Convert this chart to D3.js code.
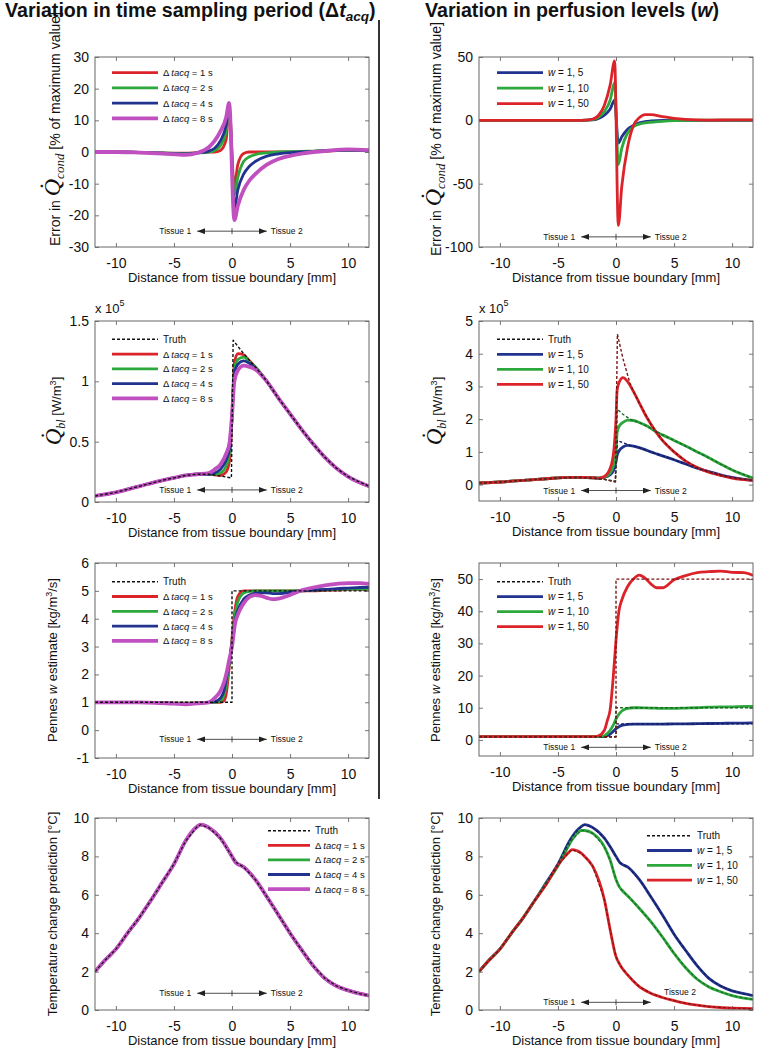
<!DOCTYPE html>
<html>
<head>
<meta charset="utf-8">
<script src="https://cdn.jsdelivr.net/npm/d3@7"></script>
<style>
  body { margin: 0; background: #fff; }
  text { font-family: "Liberation Sans", Arial, sans-serif; fill: #111; }
</style>
</head>
<body>
<svg id="fig" width="763" height="1050"></svg>
<script>
// ---- data ----
const X_DOMAIN = [-11.8, 11.8];
const X_TICKS = [-10, -5, 0, 5, 10];
const DT_VALUES = [1, 2, 4, 8];      // sampling periods [s]
const W_VALUES = [5, 10, 50];        // tissue 2 perfusion

// row 1: error in Q_cond [%]
const errDtX = [-11.8, -10, -8, -6, -4, -3, -2, -1.5, -1, -0.5, -0.25, 0.2, 0.5, 1, 1.5, 2, 3, 4, 5, 6, 7, 8, 10, 11.8];
const errDt1 = [0, 0, -0.1, -0.3, -0.4, -0.2, 0, 0, 0.5, 4, 14.5, -11, -4, -0.5, 0, 0, 0, 0, 0, 0.1, 0.2, 0.3, 0.5, 0.4];
const errDt2 = [0, 0, -0.1, -0.3, -0.5, -0.3, 0, 0.5, 2, 6.5, 13.5, -13.5, -8, -3, -1.5, -0.8, -0.3, 0, 0.1, 0.2, 0.3, 0.4, 0.5, 0.4];
const errDt4 = [0, 0, -0.1, -0.4, -0.6, -0.3, 0.3, 1.2, 3.5, 8.5, 14, -18, -12, -7, -4.5, -3, -1.3, -0.6, -0.2, 0, 0.2, 0.4, 0.6, 0.5];
const errDt8 = [0, 0, -0.2, -0.5, -0.9, -0.3, 1.5, 3.5, 6.5, 11, 15.5, -21.5, -17, -12, -9, -7, -4, -2.2, -1.2, -0.5, 0, 0.3, 0.8, 0.6];

const errWX = [-11.8, -10, -8, -6, -4, -3, -2, -1.5, -1, -0.5, -0.12, 0.2, 0.5, 1, 1.5, 2, 2.5, 3, 4, 5, 6, 8, 10, 11.8];
const errW5 = [0, 0, 0, 0, 0, 0, 0.3, 1.5, 4, 9, 16, -18, -13, -7, -4, -2, -1, -0.5, 0, 0, 0, 0, 0, 0];
const errW10 = [0, 0, 0, 0, 0, 0, 0.5, 2.5, 7, 16, 30, -35, -22, -10, -5, -3, -2, -1.5, -0.8, -0.3, 0, 0.2, 0.2, 0.2];
const errW50 = [0, 0, 0, 0, 0, 0, 1, 4, 12, 28, 47, -83, -52, -21, -4, 2, 4.5, 4.5, 3, 1.5, 0.7, 0.2, 0.3, 0.3];

// row 2: Q_bl [x1e5 W/m3]
const qDtX = [-11.8, -10, -8, -6, -5, -4, -3, -2, -1.5, -1, -0.5, -0.2, 0, 0.2, 0.5, 1, 1.5, 2, 3, 4, 5, 6, 7, 8, 9, 10, 11.8];
const qDt1 = [0.05, 0.08, 0.13, 0.18, 0.2, 0.22, 0.23, 0.23, 0.225, 0.22, 0.25, 0.35, 0.7, 1.15, 1.23, 1.22, 1.17, 1.12, 1.0, 0.86, 0.73, 0.6, 0.48, 0.37, 0.28, 0.21, 0.13];
const qDt2 = [0.05, 0.08, 0.13, 0.18, 0.2, 0.22, 0.23, 0.23, 0.23, 0.24, 0.3, 0.42, 0.7, 1.1, 1.18, 1.2, 1.16, 1.12, 1.0, 0.86, 0.73, 0.6, 0.48, 0.37, 0.28, 0.21, 0.13];
const qDt4 = [0.05, 0.08, 0.13, 0.18, 0.2, 0.22, 0.23, 0.23, 0.24, 0.27, 0.35, 0.45, 0.7, 1.06, 1.14, 1.17, 1.15, 1.11, 1.0, 0.86, 0.73, 0.6, 0.48, 0.37, 0.28, 0.21, 0.13];
const qDt8 = [0.05, 0.08, 0.13, 0.18, 0.2, 0.22, 0.23, 0.24, 0.27, 0.31, 0.4, 0.5, 0.72, 1.0, 1.09, 1.13, 1.12, 1.1, 1.0, 0.86, 0.73, 0.6, 0.48, 0.37, 0.28, 0.21, 0.13];
const qTruthDtX = [-11.8, -10, -8, -6, -5, -4, -3, -2, -1, -0.05, 0.1, 1, 2, 3, 4, 5, 6, 7, 8, 9, 10, 11.8];
const qTruthDt = [0.05, 0.08, 0.13, 0.18, 0.2, 0.22, 0.23, 0.23, 0.215, 0.2, 1.34, 1.23, 1.12, 1.0, 0.86, 0.73, 0.6, 0.48, 0.37, 0.28, 0.21, 0.13];

const qWX = [-11.8, -10, -8, -6, -4, -3, -2, -1.5, -1, -0.5, -0.2, 0, 0.1, 0.3, 0.6, 1, 1.5, 2, 2.5, 3, 3.5, 4, 5, 6, 7, 8, 9, 10, 11.8];
const qW5 = [0.05, 0.08, 0.13, 0.18, 0.22, 0.22, 0.21, 0.2, 0.22, 0.3, 0.45, 0.7, 0.9, 1.05, 1.15, 1.2, 1.18, 1.13, 1.07, 1.0, 0.94, 0.88, 0.76, 0.63, 0.5, 0.4, 0.3, 0.22, 0.13];
const qW10 = [0.05, 0.08, 0.13, 0.18, 0.22, 0.22, 0.21, 0.2, 0.23, 0.35, 0.6, 1.0, 1.6, 1.8, 1.9, 1.97, 1.96, 1.9, 1.82, 1.72, 1.6, 1.52, 1.35, 1.18, 1.0, 0.82, 0.63, 0.45, 0.2];
const qW50 = [0.05, 0.08, 0.13, 0.18, 0.22, 0.22, 0.21, 0.2, 0.25, 0.5, 1.0, 2.0, 2.9, 3.15, 3.27, 3.15, 2.85, 2.5, 2.15, 1.85, 1.58, 1.35, 1.0, 0.72, 0.52, 0.38, 0.28, 0.2, 0.13];
const qTruthWX = [-11.8, -10, -8, -6, -4, -3, -2, -1, -0.05, 0.12, 0.6, 1.2, 1.5, 2, 3, 4, 5, 6, 7, 8, 9, 10, 11.8];
const qTruthW5 = [0.05, 0.08, 0.13, 0.18, 0.22, 0.22, 0.2, 0.16, 0.1, 1.35, 1.28, 1.2, 1.18, 1.13, 1.0, 0.88, 0.76, 0.63, 0.5, 0.4, 0.3, 0.22, 0.13];
const qTruthW10 = [0.05, 0.08, 0.13, 0.18, 0.22, 0.22, 0.2, 0.16, 0.1, 2.3, 2.15, 2.0, 1.96, 1.9, 1.72, 1.52, 1.35, 1.18, 1.0, 0.82, 0.63, 0.45, 0.2];
const qTruthW50 = [0.05, 0.08, 0.13, 0.18, 0.22, 0.22, 0.2, 0.16, 0.08, 4.6, 3.85, 3.1, 2.85, 2.5, 1.85, 1.35, 1.0, 0.72, 0.52, 0.38, 0.28, 0.2, 0.13];

// row 3: Pennes w estimate [kg/m3/s]
const wDtX = [-11.8, -10, -8, -6, -5, -4, -3, -2, -1.5, -1, -0.7, -0.5, -0.25, 0, 0.25, 0.5, 1, 1.5, 2, 2.5, 3, 3.5, 4, 5, 6, 7, 8, 9, 10, 11, 11.8];
const wDt1 = [1, 1, 1, 0.98, 0.97, 0.97, 0.98, 1, 1, 1, 1.05, 1.3, 2.2, 3.3, 4.3, 4.8, 5, 5, 5, 5, 5, 5, 5, 5, 5, 5, 5.02, 5.03, 5.05, 5.05, 5.05];
const wDt2 = [1, 1, 1, 0.98, 0.97, 0.97, 0.98, 1, 1, 1.05, 1.25, 1.6, 2.3, 3.2, 4.1, 4.6, 4.92, 4.98, 5, 5, 5, 5, 5, 5, 5.02, 5.03, 5.04, 5.05, 5.06, 5.06, 5.06];
const wDt4 = [1, 1, 1, 0.98, 0.96, 0.95, 0.97, 1, 1.02, 1.15, 1.4, 1.8, 2.4, 3.1, 3.9, 4.3, 4.7, 4.85, 4.92, 4.93, 4.93, 4.9, 4.9, 4.95, 5.0, 5.03, 5.05, 5.08, 5.1, 5.12, 5.13];
const wDt8 = [1, 1, 1, 0.97, 0.95, 0.93, 0.96, 1.0, 1.15, 1.4, 1.7, 2.0, 2.5, 3.0, 3.8, 4.15, 4.55, 4.78, 4.85, 4.82, 4.75, 4.7, 4.72, 4.85, 5.02, 5.12, 5.2, 5.25, 5.28, 5.28, 5.25];
const stepX = [-11.8, 0, 0, 11.8];
const wTruthDt = [1, 1, 5, 5];

const wWX = [-11.8, -10, -8, -6, -4, -2, -1.5, -1, -0.75, -0.5, -0.25, 0, 0.25, 0.5, 1, 1.5, 2, 2.5, 3, 3.5, 4, 5, 6, 7, 8, 9, 10, 11, 11.8];
const wW5 = [1, 1, 1, 1, 1, 1, 1, 1, 1.3, 1.8, 2.6, 3.5, 4.1, 4.5, 4.8, 4.9, 4.9, 4.9, 4.9, 4.9, 4.9, 5, 5, 5.05, 5.1, 5.15, 5.2, 5.25, 5.3];
const wW10 = [1, 1, 1, 1, 1, 1, 1, 1.3, 2, 3, 4.5, 6.5, 8, 9, 9.8, 10, 10, 9.95, 9.9, 9.85, 9.8, 9.8, 9.9, 10, 10.2, 10.3, 10.3, 10.4, 10.4];
const wW50 = [1, 1, 1, 1, 1, 1, 1.3, 3, 6, 9.5, 19, 31, 40, 43.5, 47.7, 50, 51.2, 50.3, 48.5, 47.3, 47.3, 49.8, 51.1, 52, 52.3, 52.5, 52.1, 52, 51.1];
const wTruthW5 = [1, 1, 5, 5];
const wTruthW10 = [1, 1, 10, 10];
const wTruthW50 = [1, 1, 50, 50];

// row 4: temperature change prediction [degC]
const tDtX = [-11.8, -11, -10, -9, -8, -7, -6, -5, -4, -3, -2.7, -2, -1, 0, 0.3, 1, 2, 3, 4, 5, 6, 7, 8, 9, 10, 11, 11.8];
const tDtAll = [2.0, 2.55, 3.17, 4.0, 4.8, 5.7, 6.65, 7.6, 8.8, 9.55, 9.65, 9.5, 8.95, 8.0, 7.7, 7.45, 6.8, 5.9, 4.95, 4.0, 3.13, 2.3, 1.65, 1.25, 1.02, 0.85, 0.75];

const tWX = [-11.8, -11, -10, -9, -8, -7, -6, -5, -4, -3.8, -3, -2.7, -2, -1, -0.5, 0, 0.3, 0.5, 1, 2, 3, 4, 5, 6, 7, 8, 9, 10, 11, 11.8];
const tW5 = [2.0, 2.55, 3.17, 4.0, 4.8, 5.7, 6.65, 7.6, 8.8, 9.0, 9.55, 9.65, 9.5, 8.95, 8.5, 8.0, 7.7, 7.6, 7.45, 6.8, 5.9, 4.95, 3.95, 3.1, 2.3, 1.65, 1.25, 1.0, 0.85, 0.75];
const tW10 = [2.0, 2.55, 3.17, 4.0, 4.8, 5.7, 6.6, 7.5, 8.65, 8.85, 9.35, 9.35, 9.2, 8.5, 7.8, 6.8, 6.4, 6.25, 5.95, 5.3, 4.6, 3.8, 2.95, 2.2, 1.6, 1.2, 0.95, 0.75, 0.62, 0.55];
const tW50 = [2.0, 2.55, 3.17, 4.0, 4.8, 5.7, 6.55, 7.55, 8.25, 8.35, 8.17, 8.0, 7.48, 5.74, 4.17, 2.78, 2.4, 2.2, 1.83, 1.22, 0.87, 0.65, 0.49, 0.35, 0.25, 0.18, 0.13, 0.1, 0.08, 0.07];

// ---- styles ----
const RED = "#dc2329", GREEN = "#2da83c", BLUE = "#22338f", PINK = "#c050c0";
const DRED = "#7a1414", DGREEN = "#1d6a27", DBLUE = "#141d5a", BLACK = "#111";
const DT_COLORS = [RED, GREEN, BLUE, PINK];
const DT_WIDTHS = [2.8, 2.8, 2.8, 3.8];
const W_COLORS = [BLUE, GREEN, RED];
const SERIF = "'Liberation Serif','DejaVu Serif',serif";

const svg = d3.select("#fig");

// arrow head for tissue annotation
svg.append("defs").append("marker")
    .attr("id", "arr")
    .attr("viewBox", "0 0 8 6")
    .attr("refX", 8).attr("refY", 3)
    .attr("markerWidth", 8).attr("markerHeight", 6)
    .attr("markerUnits", "userSpaceOnUse")
    .attr("orient", "auto")
  .append("path").attr("d", "M0,0L8,3L0,6Z").attr("fill", "#222");

// append text pieces as tspans
function rich(sel, parts) {
  parts.forEach(p => {
    const ts = sel.append("tspan").text(p.t);
    if (p.size) ts.attr("font-size", p.size);
    if (p.it) ts.attr("font-style", "italic");
    if (p.serif) ts.attr("font-family", SERIF);
    if (p.dy) ts.attr("dy", p.dy);
  });
  return sel;
}

const dtLabel = n => [{t: "\u0394\u2009", size: 9.5}, {t: "tacq", it: true, size: 9.5}, {t: " = " + n + " s", size: 9.5}];
const wLabel = n => [{t: "w", it: true}, {t: " = 1, " + n}];
const truthLabel = [{t: "Truth"}];

const errYLabel = [{t: "Error in ", size: 14}, {t: "Q\u0307", size: 24, it: true, serif: true},
                   {t: "cond", size: 13, it: true, serif: true, dy: 4}, {t: " [% of maximum value]", size: 14, dy: -4}];
const qYLabel = [{t: "Q\u0307", size: 23, it: true, serif: true}, {t: "bl", size: 12, it: true, serif: true, dy: 4},
                 {t: "  [W/m", dy: -4}, {t: "3", size: 9, dy: -5}, {t: "]", dy: 5}];
const wYLabel = [{t: "Pennes "}, {t: "w", it: true}, {t: " estimate [kg/m"}, {t: "3", size: 9, dy: -5}, {t: "/s]", dy: 5}];
const tYLabel = [{t: "Temperature change prediction [\u00b0C]"}];

function panel(cfg) {
  const g = svg.append("g");
  const x = d3.scaleLinear().domain(X_DOMAIN).range([cfg.left, cfg.left + cfg.w]);
  const y = d3.scaleLinear().domain(cfg.yDomain).range([cfg.top + cfg.h, cfg.top]);

  const clipId = "clip" + cfg.id;
  svg.append("clipPath").attr("id", clipId)
    .append("rect").attr("x", cfg.left).attr("y", cfg.top).attr("width", cfg.w).attr("height", cfg.h);

  // axes, ticks pointing inward
  const fmt = d => String(d);
  const styleAxis = a => {
    a.select(".domain").remove();
    a.selectAll("line").attr("stroke", "#777");
    a.selectAll("text").attr("font-size", 14).attr("fill", "#111")
      .style("font-family", "'Liberation Sans', Arial, sans-serif");
  };
  g.append("g").attr("transform", `translate(0,${cfg.top + cfg.h})`)
    .call(d3.axisBottom(x).tickValues(X_TICKS).tickSize(-4).tickPadding(11).tickFormat(fmt)).call(styleAxis);
  g.append("g").attr("transform", `translate(0,${cfg.top})`)
    .call(d3.axisTop(x).tickValues(X_TICKS).tickSize(-4).tickFormat("")).call(styleAxis);
  g.append("g").attr("transform", `translate(${cfg.left},0)`)
    .call(d3.axisLeft(y).tickValues(cfg.yTicks).tickSize(-4).tickPadding(6).tickFormat(fmt)).call(styleAxis);
  g.append("g").attr("transform", `translate(${cfg.left + cfg.w},0)`)
    .call(d3.axisRight(y).tickValues(cfg.yTicks).tickSize(-4).tickFormat("")).call(styleAxis);

  // curves
  const lines = g.append("g").attr("clip-path", `url(#${clipId})`);
  cfg.series.forEach(s => {
    const line = d3.line().x(d => x(d[0])).y(d => y(d[1]))
      .curve(s.dash ? d3.curveLinear : d3.curveMonotoneX);
    lines.append("path")
      .datum(d3.zip(s.xs, s.ys))
      .attr("d", line)
      .attr("fill", "none")
      .attr("stroke", s.color)
      .attr("stroke-width", s.width)
      .attr("stroke-dasharray", s.dash ? "3,2" : null)
      .attr("stroke-linejoin", "round");
  });

  // frame
  g.append("rect").attr("x", cfg.left).attr("y", cfg.top).attr("width", cfg.w).attr("height", cfg.h)
    .attr("fill", "none").attr("stroke", "#666").attr("stroke-width", 1);

  // tissue annotation
  const ty = y(cfg.tissueY);
  g.append("line").attr("x1", x(0)).attr("x2", x(-3)).attr("y1", ty).attr("y2", ty)
    .attr("stroke", "#222").attr("stroke-width", 0.8).attr("marker-end", "url(#arr)");
  g.append("line").attr("x1", x(0)).attr("x2", x(3)).attr("y1", ty).attr("y2", ty)
    .attr("stroke", "#222").attr("stroke-width", 0.8).attr("marker-end", "url(#arr)");
  g.append("line").attr("x1", x(0)).attr("x2", x(0)).attr("y1", ty - 3).attr("y2", ty + 3)
    .attr("stroke", "#222").attr("stroke-width", 0.8);
  g.append("text").attr("x", x(-3) - 6).attr("y", ty).attr("dy", "0.35em")
    .attr("text-anchor", "end").attr("font-size", 8.5).text("Tissue 1");
  const t2 = cfg.tissue2 || [3, cfg.tissueY];
  g.append("text").attr("x", x(t2[0]) + 4).attr("y", y(t2[1])).attr("dy", "0.35em")
    .attr("font-size", 8.5).text("Tissue 2");

  // legend
  const L = cfg.legend;
  L.rows.forEach((r, i) => {
    const ly = cfg.top + L.y + i * L.dy;
    g.append("line").attr("x1", cfg.left + L.x).attr("x2", cfg.left + L.x + L.len)
      .attr("y1", ly).attr("y2", ly)
      .attr("stroke", r.color).attr("stroke-width", r.dash ? 1.5 : r.width)
      .attr("stroke-dasharray", r.dash ? "3,2" : null);
    rich(g.append("text").attr("x", cfg.left + L.x + L.len + 5).attr("y", ly).attr("dy", "0.35em")
      .attr("font-size", 10), r.parts);
  });

  // axis labels
  g.append("text").attr("x", cfg.left + cfg.w / 2).attr("y", cfg.top + cfg.h + 35)
    .attr("text-anchor", "middle").attr("font-size", 13).text("Distance from tissue boundary [mm]");
  rich(g.append("text").attr("transform", `translate(${cfg.yl[0]},${cfg.yl[1]}) rotate(-90)`)
    .attr("text-anchor", "middle").attr("font-size", 13), cfg.ylabel);

  if (cfg.exp) {
    rich(g.append("text").attr("x", cfg.left).attr("y", cfg.top - 8).attr("font-size", 13),
      [{t: "x 10"}, {t: "5", size: 9, dy: -7}]);
  }
}

const LEFT = 95, RIGHT = 479, PW = 274;

// legend rows built from the series lists
const dtRows = DT_VALUES.map((v, i) => ({color: DT_COLORS[i], width: DT_WIDTHS[i], parts: dtLabel(v)}));
const wRows = W_VALUES.map((v, i) => ({color: W_COLORS[i], width: 2.8, parts: wLabel(v)}));
const truthRow = {color: BLACK, dash: true, parts: truthLabel};

const dtSeries = (xs, arrs) => arrs.map((ys, i) => ({xs, ys, color: DT_COLORS[i], width: DT_WIDTHS[i]}));
const wSeries = (xs, arrs) => arrs.map((ys, i) => ({xs, ys, color: W_COLORS[i], width: 2.8}));

// row 1
panel({id: 1, left: LEFT, top: 57, w: PW, h: 190, yDomain: [-30, 30], yTicks: [-30, -20, -10, 0, 10, 20, 30],
  series: dtSeries(errDtX, [errDt1, errDt2, errDt4, errDt8]),
  tissueY: -25, legend: {x: 17, y: 15.7, dy: 15.2, len: 46, rows: dtRows},
  ylabel: errYLabel, yl: [60, 129]});
panel({id: 2, left: RIGHT, top: 57, w: PW, h: 190, yDomain: [-100, 50], yTicks: [-100, -50, 0, 50],
  series: wSeries(errWX, [errW5, errW10, errW50]),
  tissueY: -92, legend: {x: 18, y: 15.7, dy: 15.5, len: 46, rows: wRows},
  ylabel: errYLabel, yl: [441, 139]});

// row 2
panel({id: 3, left: LEFT, top: 321, w: PW, h: 181, yDomain: [0, 1.5], yTicks: [0, 0.5, 1, 1.5],
  series: dtSeries(qDtX, [qDt1, qDt2, qDt4, qDt8])
    .concat([{xs: qTruthDtX, ys: qTruthDt, color: BLACK, width: 1.4, dash: true}]),
  tissueY: 0.1, legend: {x: 17, y: 18.3, dy: 14.75, len: 46, rows: [truthRow].concat(dtRows)},
  ylabel: qYLabel, yl: [61, 411], exp: true});
panel({id: 4, left: RIGHT, top: 321, w: PW, h: 180, yDomain: [-0.5, 5], yTicks: [0, 1, 2, 3, 4, 5],
  series: wSeries(qWX, [qW5, qW10, qW50]).concat([
    {xs: qTruthWX, ys: qTruthW5, color: DBLUE, width: 1.4, dash: true},
    {xs: qTruthWX, ys: qTruthW10, color: DGREEN, width: 1.4, dash: true},
    {xs: qTruthWX, ys: qTruthW50, color: DRED, width: 1.4, dash: true}]),
  tissueY: -0.18, legend: {x: 18, y: 18.3, dy: 15, len: 46, rows: [truthRow].concat(wRows)},
  ylabel: qYLabel, yl: [442, 411], exp: true});

// row 3
panel({id: 5, left: LEFT, top: 563, w: PW, h: 195, yDomain: [-1, 6], yTicks: [-1, 0, 1, 2, 3, 4, 5, 6],
  series: dtSeries(wDtX, [wDt1, wDt2, wDt4, wDt8])
    .concat([{xs: stepX, ys: wTruthDt, color: BLACK, width: 1.4, dash: true}]),
  tissueY: -0.33, legend: {x: 17, y: 18.7, dy: 14.8, len: 46, rows: [truthRow].concat(dtRows)},
  ylabel: wYLabel, yl: [57, 660]});
panel({id: 6, left: RIGHT, top: 563, w: PW, h: 193, yDomain: [-5, 55], yTicks: [0, 10, 20, 30, 40, 50],
  series: wSeries(wWX, [wW5, wW10, wW50]).concat([
    {xs: stepX, ys: wTruthW5, color: DBLUE, width: 1.4, dash: true},
    {xs: stepX, ys: wTruthW10, color: DGREEN, width: 1.4, dash: true},
    {xs: stepX, ys: wTruthW50, color: DRED, width: 1.4, dash: true}]),
  tissueY: -2.3, legend: {x: 18, y: 18.7, dy: 15, len: 46, rows: [truthRow].concat(wRows)},
  ylabel: wYLabel, yl: [440, 660]});

// row 4
panel({id: 7, left: LEFT, top: 818, w: PW, h: 192, yDomain: [0, 10], yTicks: [0, 2, 4, 6, 8, 10],
  series: dtSeries(tDtX, [tDtAll, tDtAll, tDtAll, tDtAll])
    .concat([{xs: tDtX, ys: tDtAll, color: BLACK, width: 1.2, dash: true}]),
  tissueY: 0.87, legend: {x: 173, y: 12.7, dy: 14.6, len: 42, rows: [truthRow].concat(dtRows)},
  ylabel: tYLabel, yl: [57, 914]});
panel({id: 8, left: RIGHT, top: 818, w: PW, h: 192, yDomain: [0, 10], yTicks: [0, 2, 4, 6, 8, 10],
  series: wSeries(tWX, [tW5, tW10, tW50]).concat([
    {xs: tWX, ys: tW5, color: DBLUE, width: 1.2, dash: true},
    {xs: tWX, ys: tW10, color: DGREEN, width: 1.2, dash: true},
    {xs: tWX, ys: tW50, color: DRED, width: 1.2, dash: true}]),
  tissueY: 0.4, tissue2: [3.8, 0.95], legend: {x: 168, y: 17.7, dy: 14.8, len: 45, rows: [truthRow].concat(wRows)},
  ylabel: tYLabel, yl: [440, 914]});

// column titles and divider
rich(svg.append("text").attr("x", 5).attr("y", 17).attr("font-size", 19.6).attr("font-weight", "bold"),
  [{t: "Variation in time sampling period (\u0394"}, {t: "t", it: true}, {t: "acq", it: true, size: 13.5, dy: 4}, {t: ")", dy: -4}]);
rich(svg.append("text").attr("x", 572).attr("y", 17).attr("font-size", 19.6).attr("font-weight", "bold")
    .attr("text-anchor", "middle"),
  [{t: "Variation in perfusion levels ("}, {t: "w", it: true}, {t: ")"}]);
svg.append("line").attr("x1", 379).attr("x2", 379).attr("y1", 20).attr("y2", 799)
  .attr("stroke", "#333").attr("stroke-width", 2);
</script>
</body>
</html>
